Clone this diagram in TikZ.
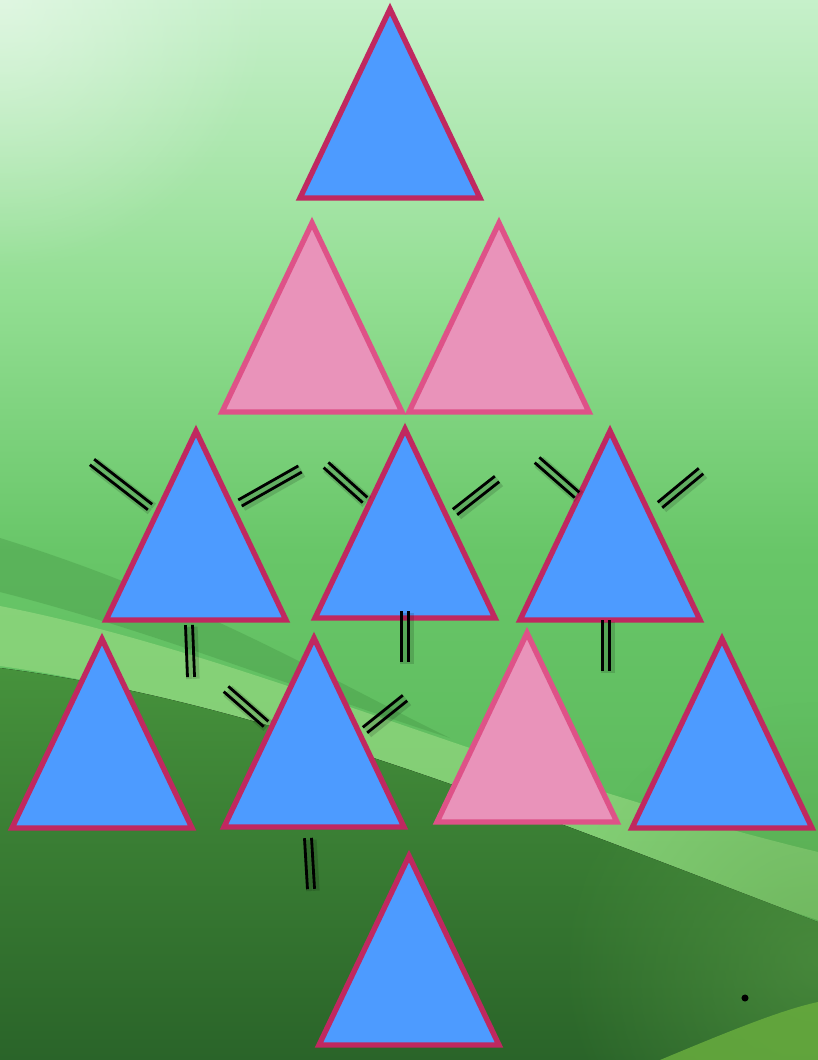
\documentclass[tikz,border=0pt]{standalone}
\usepackage{tikz}
\usetikzlibrary{calc,fadings}
\definecolor{triblue}{RGB}{77,155,255}
\definecolor{tricrimson}{RGB}{192,40,96}
\definecolor{tripink}{RGB}{233,147,186}
\definecolor{pinkedge}{RGB}{222,82,136}
\definecolor{bgtop}{RGB}{198,240,202}
\definecolor{bgupper}{RGB}{146,222,146}
\definecolor{bgmid}{RGB}{104,198,104}
\definecolor{bglow}{RGB}{84,176,84}
\definecolor{hillstreak}{RGB}{66,146,66}
\definecolor{hilllight}{RGB}{168,226,140}
\definecolor{hillmid}{RGB}{70,146,60}
\definecolor{hilldark}{RGB}{42,100,41}
\definecolor{hillright}{RGB}{92,160,72}
\definecolor{hillpatch}{RGB}{104,172,62}
\pgfdeclareverticalshading{meadow}{100bp}{color(0bp)=(bglow); color(25bp)=(bglow);
  color(49bp)=(bgmid); color(61bp)=(bgupper); color(75bp)=(bgtop); color(100bp)=(bgtop)}
\tikzfading[name=glowfade, inner color=transparent!0, outer color=transparent!100]
\tikzset{
  tri/.style={line width=4.6pt,line join=miter},
  bondline/.style={draw=black,line width=2.4pt},
  bondshadow/.style={draw=black,opacity=0.14,line width=5.5pt,
    transform canvas={shift={(1.6pt,-1.6pt)}}}
}

\begin{document}
\begin{tikzpicture}[x=0.03cm,y=-0.03cm]
  %% Background meadow
  \clip (0,0) rectangle (818,1060);
  \fill[shading=meadow] (0,0) rectangle (818,1060);
  \fill[white,opacity=0.45,path fading=glowfade] (0,0) circle (230pt);
  \fill[hillstreak,opacity=0.35] (0,538) .. controls (200,600) and (330,680) .. (450,738)
    .. controls (300,690) and (150,630) .. (0,592) -- cycle;
  \fill[hilllight,opacity=0.5] (0,606) .. controls (250,655) and (500,775) .. (818,852)
    -- (818,920) .. controls (500,815) and (250,700) .. (0,666) -- cycle;
  \fill[top color=hillmid,bottom color=hilldark] (0,668) .. controls (250,700) and (500,800) .. (818,922)
    -- (818,1060) -- (0,1060) -- cycle;
  \fill[hillright,opacity=0.5,path fading=glowfade] (818,960) circle (220pt);
  \fill[hillpatch,opacity=0.85] (660,1060) .. controls (720,1035) and (780,1010) .. (818,1002)
    -- (818,1060) -- cycle;

  %% Triangles (apex, fill, edge)
  \foreach \n/\x/\y/\fc/\dc in {top/390/9/triblue/tricrimson,
      pinkL/312/223/tripink/pinkedge, pinkR/499/223/tripink/pinkedge,
      midL/196/431/triblue/tricrimson, midC/405/429/triblue/tricrimson,
      midR/610/431/triblue/tricrimson,
      lowA/102/639/triblue/tricrimson, lowB/314/638/triblue/tricrimson,
      lowC/527/633/tripink/pinkedge, lowD/722/639/triblue/tricrimson,
      foot/409/856/triblue/tricrimson} {
    \coordinate (\n) at (\x,\y);
    \draw[tri,fill=\fc,draw=\dc] (\n) -- ++(-90,189) -- ++(180,0) -- cycle;
  }

  %% Double bond marks
  \foreach \i/\ax/\ay/\bx/\by in {1/92/462/150/507, 2/240/503/300/469, 3/189/625/191/677,
      4/326/465/365/500, 5/455/512/497/479, 6/405/611/405/662,
      7/537/460/577/495, 8/660/505/701/471, 9/606/620/606/671,
      10/226/689/266/724, 11/365/730/405/698, 12/308/838/311/889} {
    \coordinate (b\i s) at (\ax,\ay);
    \coordinate (b\i e) at (\bx,\by);
    \foreach \off in {-3pt,3pt}
      \draw[bondshadow] ($(b\i s)!\off!90:(b\i e)$) -- ($(b\i e)!\off!-90:(b\i s)$);
    \foreach \off in {-3pt,3pt}
      \draw[bondline] ($(b\i s)!\off!90:(b\i e)$) -- ($(b\i e)!\off!-90:(b\i s)$);
  }

  \coordinate (dot) at (745,998);
  \fill (dot) circle (3pt);
\end{tikzpicture}
\end{document}
